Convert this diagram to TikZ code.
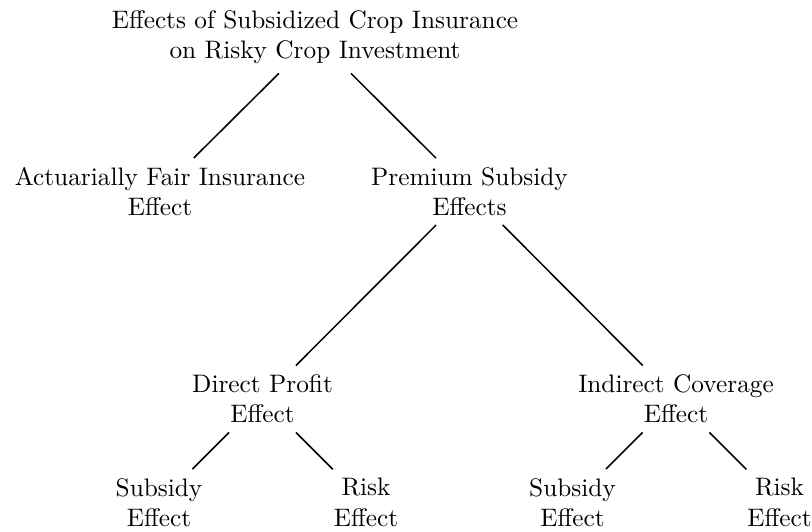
\documentclass[tikz,border=0pt]{standalone}
\usepackage{tikz}

\begin{document}
\begin{tikzpicture}[semithick,
		effect/.style={align=center, inner sep=0.333em}]
	% Fix the canvas to the size of the figure.
	\useasboundingbox (0,0) rectangle (11.280,7.377);

	% Define heights of the levels of the tree.
	\def\lvlzero{6.856}     %Top level.
	\def\lvlone{4.716}      %First split.
	\def\lvltwo{1.834}      %Second split.
	\def\lvlthree{0.396}    %Leaves.

	% Nodes of the tree.
	\node[effect] (root) at (4.376,\lvlzero) {Effects of Subsidized Crop Insurance\\on Risky Crop Investment};
	\node[effect] (fair) at (2.223,\lvlone) {Actuarially Fair Insurance\\Effect};
	\node[effect] (prem) at (6.522,\lvlone) {Premium Subsidy\\Effects};
	\node[effect] (direct) at (3.647,\lvltwo) {Direct Profit\\Effect};
	\node[effect] (indirect) at (9.391,\lvltwo) {Indirect Coverage\\Effect};
	\node[effect] (dsub) at (2.209,\lvlthree) {Subsidy\\Effect};
	\node[effect] (drisk) at (5.085,\lvlthree) {Risk\\Effect};
	\node[effect] (isub) at (7.953,\lvlthree) {Subsidy\\Effect};
	\node[effect] (irisk) at (10.829,\lvlthree) {Risk\\Effect};

	% Branches between the nodes.
	\draw (root) -- (fair);
	\draw (root) -- (prem);
	\draw (prem) -- (direct);
	\draw (prem) -- (indirect);
	\draw (direct) -- (dsub);
	\draw (direct) -- (drisk);
	\draw (indirect) -- (isub);
	\draw (indirect) -- (irisk);

\end{tikzpicture}
\end{document}
